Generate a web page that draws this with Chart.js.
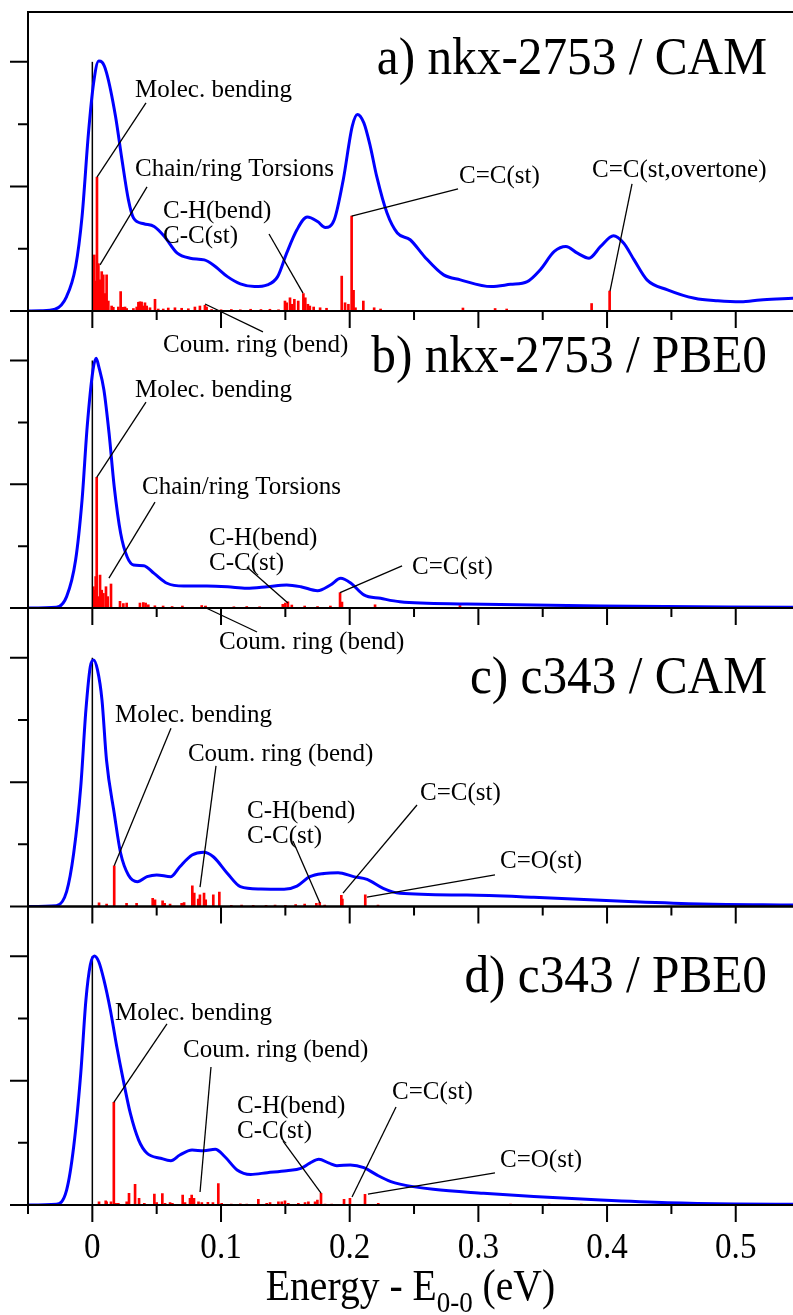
<!DOCTYPE html>
<html>
<head>
<meta charset="utf-8">
<script src="https://cdn.jsdelivr.net/npm/chart.js@4.4.0/dist/chart.umd.min.js"></script>
<style>
body { margin: 0; background: #fff; }
#wrap { position: relative; width: 793px; height: 1315px; }
#wrap canvas { position: absolute; left: 0; top: 0; }
</style>
</head>
<body>
<div id="wrap">
<canvas id="panelA" width="793" height="1315"></canvas>
<canvas id="panelB" width="793" height="1315"></canvas>
<canvas id="panelC" width="793" height="1315"></canvas>
<canvas id="panelD" width="793" height="1315"></canvas>
</div>
<script>
// axis ticks
var xMajor = [0, 0.1, 0.2, 0.3, 0.4, 0.5]
var xMinor = [-0.05, 0.05, 0.15, 0.25, 0.35, 0.45]
var xLabels = ["0", "0.1", "0.2", "0.3", "0.4", "0.5"]
var yMajor = [0, 0.5, 1]
var yMinor = [0.25, 0.75]

// 0-0 transition (black line)
var originX = [0, 0]
var originY = [0, 1]

// a) nkx-2753 / CAM  -- broadened spectrum
var specAx = [-0.05, -0.04, -0.029, -0.020, -0.013, -0.008, -0.003, 0.001, 0.005, 0.0075, 0.011, 0.018, 0.023, 0.028, 0.032, 0.040, 0.048, 0.056, 0.066, 0.076, 0.087, 0.094, 0.105, 0.115, 0.126, 0.136, 0.144, 0.151, 0.159, 0.167, 0.175, 0.181, 0.188, 0.195, 0.202, 0.206, 0.211, 0.216, 0.221, 0.229, 0.237, 0.247, 0.258, 0.273, 0.286, 0.310, 0.325, 0.338, 0.348, 0.359, 0.368, 0.377, 0.386, 0.395, 0.405, 0.413, 0.421, 0.431, 0.447, 0.468, 0.486, 0.504, 0.519, 0.532, 0.545]
var specAy = [0.0, 0.001, 0.007, 0.058, 0.178, 0.379, 0.715, 0.916, 1.003, 0.999, 0.957, 0.782, 0.608, 0.447, 0.373, 0.350, 0.339, 0.299, 0.232, 0.212, 0.205, 0.185, 0.138, 0.109, 0.098, 0.105, 0.138, 0.232, 0.326, 0.377, 0.359, 0.335, 0.366, 0.527, 0.742, 0.789, 0.755, 0.661, 0.540, 0.393, 0.313, 0.286, 0.219, 0.145, 0.125, 0.098, 0.107, 0.118, 0.165, 0.239, 0.259, 0.232, 0.212, 0.259, 0.302, 0.272, 0.205, 0.125, 0.085, 0.051, 0.041, 0.037, 0.044, 0.048, 0.051]
// stick spectrum
var stickAx = [0.0015, 0.0025, 0.0036, 0.0047, 0.0060, 0.0073, 0.0085, 0.0098, 0.0111, 0.0124, 0.0150, 0.0163, 0.0202, 0.0220, 0.0241, 0.0254, 0.0267, 0.0319, 0.0345, 0.0358, 0.0370, 0.0383, 0.0396, 0.0409, 0.0422, 0.0448, 0.0487, 0.0512, 0.0551, 0.0590, 0.0642, 0.0694, 0.0746, 0.0797, 0.0836, 0.0875, 0.0888, 0.0927, 0.100, 0.108, 0.115, 0.123, 0.131, 0.138, 0.1447, 0.1497, 0.151, 0.1536, 0.155, 0.157, 0.160, 0.164, 0.1655, 0.1675, 0.169, 0.172, 0.177, 0.182, 0.1938, 0.1964, 0.199, 0.2015, 0.203, 0.2045, 0.2106, 0.219, 0.224, 0.288, 0.313, 0.322, 0.388, 0.402]
var stickAy = [0.225, 0.12, 0.537, 0.19, 0.125, 0.158, 0.145, 0.07, 0.145, 0.04, 0.02, 0.015, 0.016, 0.078, 0.015, 0.016, 0.01, 0.01, 0.016, 0.035, 0.037, 0.036, 0.02, 0.033, 0.02, 0.013, 0.047, 0.008, 0.008, 0.012, 0.013, 0.011, 0.009, 0.016, 0.02, 0.023, 0.016, 0.006, 0.005, 0.006, 0.005, 0.007, 0.006, 0.007, 0.005, 0.04, 0.033, 0.053, 0.027, 0.047, 0.04, 0.07, 0.053, 0.027, 0.02, 0.016, 0.013, 0.011, 0.14, 0.033, 0.027, 0.381, 0.083, 0.013, 0.04, 0.013, 0.008, 0.012, 0.01, 0.008, 0.03, 0.08]

// b) nkx-2753 / PBE0
var specBx = [-0.05, -0.028, -0.020, -0.013, -0.008, -0.004, 0.0005, 0.003, 0.005, 0.009, 0.013, 0.017, 0.022, 0.027, 0.032, 0.040, 0.048, 0.058, 0.071, 0.089, 0.105, 0.120, 0.136, 0.151, 0.162, 0.175, 0.185, 0.193, 0.201, 0.211, 0.224, 0.239, 0.291, 0.395, 0.545]
var specBy = [0.0, 0.003, 0.046, 0.194, 0.436, 0.733, 0.962, 1.009, 0.975, 0.881, 0.706, 0.49, 0.302, 0.207, 0.174, 0.171, 0.14, 0.1, 0.089, 0.089, 0.086, 0.08, 0.086, 0.093, 0.086, 0.07, 0.093, 0.12, 0.1, 0.053, 0.039, 0.025, 0.016, 0.008, 0.003]
var stickBx = [0.0008, 0.0016, 0.0026, 0.0034, 0.0047, 0.0060, 0.0073, 0.0086, 0.0106, 0.0119, 0.0145, 0.0215, 0.0241, 0.0267, 0.0370, 0.0396, 0.0414, 0.0435, 0.0486, 0.055, 0.062, 0.070, 0.085, 0.088, 0.110, 0.120, 0.130, 0.148, 0.150, 0.152, 0.155, 0.165, 0.175, 0.185, 0.1925, 0.194, 0.2197, 0.2857]
var stickBy = [0.086, 0.072, 0.127, 0.528, 0.046, 0.133, 0.072, 0.059, 0.086, 0.046, 0.097, 0.027, 0.018, 0.02, 0.02, 0.022, 0.02, 0.013, 0.009, 0.008, 0.006, 0.008, 0.01, 0.008, 0.005, 0.006, 0.005, 0.015, 0.02, 0.025, 0.012, 0.008, 0.006, 0.008, 0.062, 0.024, 0.013, 0.01]

// c) c343 / CAM
var specCx = [-0.05, -0.028, -0.020, -0.0145, -0.009, -0.005, -0.0016, 0.001, 0.004, 0.0075, 0.011, 0.017, 0.022, 0.028, 0.035, 0.0425, 0.050, 0.061, 0.068, 0.0775, 0.0865, 0.094, 0.105, 0.115, 0.131, 0.149, 0.159, 0.169, 0.180, 0.191, 0.203, 0.2135, 0.226, 0.239, 0.291, 0.343, 0.421, 0.473, 0.545]
var specCy = [0.0, 0.003, 0.06, 0.214, 0.482, 0.79, 0.964, 0.991, 0.951, 0.83, 0.589, 0.375, 0.214, 0.127, 0.1, 0.12, 0.127, 0.12, 0.16, 0.207, 0.218, 0.2, 0.133, 0.08, 0.07, 0.069, 0.082, 0.12, 0.133, 0.136, 0.12, 0.109, 0.073, 0.053, 0.046, 0.037, 0.019, 0.01, 0.006]
var stickCx = [0.0052, 0.0111, 0.0170, 0.0266, 0.0344, 0.0469, 0.0487, 0.0546, 0.0562, 0.0604, 0.0694, 0.0713, 0.0777, 0.0792, 0.0823, 0.0836, 0.0868, 0.0881, 0.0940, 0.0987, 0.108, 0.116, 0.125, 0.135, 0.142, 0.150, 0.158, 0.165, 0.1741, 0.1767, 0.1806, 0.1935, 0.1943, 0.2121, 0.2220]
var stickCy = [0.015, 0.01, 0.164, 0.013, 0.013, 0.033, 0.027, 0.023, 0.013, 0.01, 0.013, 0.016, 0.083, 0.054, 0.03, 0.047, 0.054, 0.027, 0.047, 0.058, 0.005, 0.006, 0.005, 0.005, 0.006, 0.005, 0.008, 0.01, 0.013, 0.016, 0.006, 0.045, 0.03, 0.047, 0.006]

// d) c343 / PBE0
var specDx = [-0.05, -0.028, -0.020, -0.0145, -0.009, -0.005, -0.0016, 0.0016, 0.005, 0.009, 0.014, 0.019, 0.024, 0.0295, 0.036, 0.0425, 0.053, 0.061, 0.068, 0.0775, 0.0865, 0.0955, 0.103, 0.1125, 0.123, 0.136, 0.151, 0.162, 0.169, 0.176, 0.184, 0.190, 0.2005, 0.211, 0.221, 0.232, 0.239, 0.265, 0.304, 0.343, 0.395, 0.447, 0.499, 0.545]
var specDy = [0.0, 0.003, 0.06, 0.234, 0.529, 0.824, 0.965, 1.001, 0.978, 0.905, 0.784, 0.636, 0.503, 0.369, 0.261, 0.208, 0.188, 0.178, 0.201, 0.221, 0.218, 0.224, 0.194, 0.141, 0.123, 0.13, 0.138, 0.147, 0.168, 0.184, 0.168, 0.158, 0.161, 0.15, 0.121, 0.094, 0.084, 0.063, 0.047, 0.034, 0.02, 0.009, 0.004, 0.003]
var stickDx = [0.0052, 0.0104, 0.0111, 0.0145, 0.0167, 0.0181, 0.0202, 0.0267, 0.0285, 0.0332, 0.0363, 0.0404, 0.0482, 0.0500, 0.0544, 0.0565, 0.0604, 0.0622, 0.0702, 0.0720, 0.0759, 0.0772, 0.0790, 0.0825, 0.0851, 0.0898, 0.0937, 0.0979, 0.1005, 0.108, 0.115, 0.120, 0.129, 0.1355, 0.1381, 0.1446, 0.1472, 0.1497, 0.1523, 0.1601, 0.1653, 0.1679, 0.1731, 0.1749, 0.1777, 0.1808, 0.186, 0.1956, 0.2002, 0.2119, 0.2222, 0.325, 0.355, 0.38]
var stickDy = [0.013, 0.017, 0.013, 0.013, 0.413, 0.007, 0.007, 0.013, 0.047, 0.083, 0.027, 0.007, 0.044, 0.01, 0.046, 0.007, 0.01, 0.007, 0.04, 0.01, 0.027, 0.04, 0.027, 0.013, 0.01, 0.011, 0.01, 0.086, 0.007, 0.004, 0.005, 0.004, 0.023, 0.007, 0.01, 0.013, 0.013, 0.017, 0.007, 0.007, 0.01, 0.013, 0.013, 0.02, 0.047, 0.004, 0.004, 0.023, 0.027, 0.043, 0.007, 0.004, 0.004, 0.004]

// labels with leader lines, placed in data units (energy, intensity)
var notesA = [
    { text: ["Molec. bending"], at: [0.0332, 0.859], line: [0.0417, 0.835, 0.0036, 0.537] },
    { text: ["Chain/ring Torsions"], at: [0.0332, 0.542], line: [0.0425, 0.498, 0.006, 0.185] },
    { text: ["C-H(bend)", "C-C(st)"], at: [0.0549, 0.373], line: [0.1373, 0.309, 0.1637, 0.072] },
    { text: ["Coum. ring (bend)"], at: [0.0549, -0.165], line: [0.0876, 0.028, 0.1326, -0.084] },
    { text: ["C=C(st)"], at: [0.285, 0.514], line: [0.2842, 0.49, 0.2015, 0.381] },
    { text: ["C=C(st,overtone)"], at: [0.3883, 0.538], line: [0.4194, 0.51, 0.4023, 0.08] }
]
var notesB = [
    { text: ["Molec. bending"], at: [0.0332, 0.853], line: [0.0417, 0.832, 0.0034, 0.528] },
    { text: ["Chain/ring Torsions"], at: [0.0386, 0.461], line: [0.0487, 0.428, 0.0129, 0.121] },
    { text: ["C-H(bend)", "C-C(st)"], at: [0.0907, 0.255], line: [0.1202, 0.166, 0.152, 0.02] },
    { text: ["C=C(st)"], at: [0.2484, 0.137], line: [0.2407, 0.17, 0.1925, 0.062] },
    { text: ["Coum. ring (bend)"], at: [0.0984, -0.166], line: [0.0868, 0.004, 0.128, -0.097] }
]
var notesC = [
    { text: ["Molec. bending"], at: [0.0176, 0.741], line: [0.0611, 0.717, 0.017, 0.164] },
    { text: ["Coum. ring (bend)"], at: [0.0743, 0.585], line: [0.0961, 0.565, 0.0837, 0.078] },
    { text: ["C-H(bend)", "C-C(st)"], at: [0.1202, 0.356], line: [0.1559, 0.263, 0.1769, 0.014] },
    { text: ["C=C(st)"], at: [0.2546, 0.428], line: [0.2523, 0.408, 0.1948, 0.054] },
    { text: ["C=O(st)"], at: [0.3168, 0.155], line: [0.3129, 0.127, 0.2134, 0.038] }
]
var notesD = [
    { text: ["Molec. bending"], at: [0.0176, 0.744], line: [0.058, 0.728, 0.0167, 0.413] },
    { text: ["Coum. ring (bend)"], at: [0.0705, 0.595], line: [0.0922, 0.555, 0.0837, 0.052] },
    { text: ["C-H(bend)", "C-C(st)"], at: [0.1124, 0.37], line: [0.1482, 0.257, 0.1777, 0.048] },
    { text: ["C=C(st)"], at: [0.2329, 0.426], line: [0.236, 0.394, 0.2018, 0.032] },
    { text: ["C=O(st)"], at: [0.3168, 0.153], line: [0.3129, 0.129, 0.2142, 0.044] }
]

var SERIF = '"Liberation Serif", "Times New Roman", serif'

function toPoints(xs, ys) {
    var pts = []
    for (var i = 0; i < xs.length; i++) pts.push({ x: xs[i], y: ys[i] })
    return pts
}

// text a bit narrower than the font, like the original plot
function squeezedText(ctx, text, x, y, sx, align) {
    ctx.save()
    ctx.translate(x, y)
    ctx.scale(sx, 1)
    ctx.textAlign = align
    ctx.fillText(text, 0, 0)
    ctx.restore()
}

// frame, ticks, labels, titles
var framePlugin = {
    id: "frame",
    afterDatasetsDraw: function (chart, args, opts) {
        var ctx = chart.ctx
        var a = chart.chartArea
        var xs = chart.scales.x
        var ys = chart.scales.y
        ctx.save()
        ctx.strokeStyle = "#000"
        ctx.lineWidth = 2
        ctx.beginPath()
        ctx.moveTo(a.left, a.top); ctx.lineTo(a.right, a.top)
        ctx.moveTo(a.left, a.top - 1); ctx.lineTo(a.left, a.bottom)
        ctx.moveTo(a.left, a.bottom); ctx.lineTo(a.right, a.bottom)
        xMajor.forEach(function (v) {
            var p = xs.getPixelForValue(v)
            ctx.moveTo(p, a.bottom); ctx.lineTo(p, a.bottom + 17)
        })
        xMinor.forEach(function (v) {
            var p = xs.getPixelForValue(v)
            ctx.moveTo(p, a.bottom); ctx.lineTo(p, a.bottom + 9)
        })
        yMajor.forEach(function (v) {
            var p = ys.getPixelForValue(v)
            ctx.moveTo(a.left, p); ctx.lineTo(a.left - 18, p)
        })
        yMinor.forEach(function (v) {
            var p = ys.getPixelForValue(v)
            ctx.moveTo(a.left, p); ctx.lineTo(a.left - 10, p)
        })
        ctx.stroke()

        // leader lines and labels
        ctx.lineWidth = 1.3
        ctx.fillStyle = "#000"
        ctx.font = "25px " + SERIF
        ctx.textAlign = "left"
        ctx.textBaseline = "alphabetic"
        opts.notes.forEach(function (n) {
            ctx.beginPath()
            ctx.moveTo(xs.getPixelForValue(n.line[0]), ys.getPixelForValue(n.line[1]))
            ctx.lineTo(xs.getPixelForValue(n.line[2]), ys.getPixelForValue(n.line[3]))
            ctx.stroke()
            var tx = xs.getPixelForValue(n.at[0])
            var ty = ys.getPixelForValue(n.at[1])
            n.text.forEach(function (t, i) {
                ctx.fillText(t, tx, ty + i * 25)
            })
        })

        // panel title
        ctx.font = "53px " + SERIF
        squeezedText(ctx, opts.title, xs.getPixelForValue(opts.titleAt[0]), ys.getPixelForValue(opts.titleAt[1]), 0.93, "right")

        if (opts.bottomAxis) {
            ctx.font = "36px " + SERIF
            xMajor.forEach(function (v, i) {
                squeezedText(ctx, xLabels[i], xs.getPixelForValue(v), a.bottom + 53, 0.92, "center")
            })
            var sx = 0.9
            var big = "44px " + SERIF
            var small = "30px " + SERIF
            ctx.font = big
            var w1 = ctx.measureText("Energy - E").width * sx
            var w3 = ctx.measureText(" (eV)").width * sx
            ctx.font = small
            var w2 = ctx.measureText("0-0").width * sx
            var x0 = (a.left + a.right) / 2 - (w1 + w2 + w3) / 2
            var base = a.bottom + 95
            ctx.font = big
            squeezedText(ctx, "Energy - E", x0, base, sx, "left")
            ctx.font = small
            squeezedText(ctx, "0-0", x0 + w1, base + 12, sx, "left")
            ctx.font = big
            squeezedText(ctx, " (eV)", x0 + w1 + w2, base, sx, "left")
        }
        ctx.restore()
    }
}

function makePanel(id, specX, specY, stickX, stickY, top, bottom, notes, title, titleY, bottomAxis) {
    var ctx = document.getElementById(id).getContext("2d")
    var chart = new Chart(ctx, {
        type: "line",
        data: {
            datasets: [{
                type: "line",
                data: toPoints(specX, specY),
                borderColor: "#0000ff",
                borderWidth: 3,
                pointRadius: 0,
                cubicInterpolationMode: "monotone",
                order: 0
            }, {
                type: "line",
                data: toPoints(originX, originY),
                borderColor: "#000000",
                borderWidth: 1.5,
                pointRadius: 0,
                order: 1
            }, {
                type: "bar",
                data: toPoints(stickX, stickY),
                backgroundColor: "#ff0000",
                barThickness: 2,
                order: 2
            }]
        },
        options: {
            responsive: false,
            animation: false,
            devicePixelRatio: 1,
            layout: {
                padding: { left: 28, right: 0, top: top, bottom: 1315 - bottom }
            },
            scales: {
                x: { type: "linear", min: -0.05, max: 0.5445, offset: false, display: false },
                y: { type: "linear", min: 0, max: 1.2, display: false }
            },
            plugins: {
                legend: { display: false },
                tooltip: { enabled: false },
                frame: {
                    notes: notes,
                    title: title,
                    titleAt: [0.5243, titleY],
                    bottomAxis: bottomAxis
                }
            }
        },
        plugins: [framePlugin]
    })
    return chart
}

makePanel("panelA", specAx, specAy, stickAx, stickAy, 12, 311, notesA, "a) nkx-2753 / CAM", 0.95, false)
makePanel("panelB", specBx, specBy, stickBx, stickBy, 311, 608, notesB, "b) nkx-2753 / PBE0", 0.955, false)
makePanel("panelC", specCx, specCy, stickCx, stickCy, 608, 906.5, notesC, "c) c343 / CAM", 0.857, false)
makePanel("panelD", specDx, specDy, stickDx, stickDy, 906.5, 1205, notesD, "d) c343 / PBE0", 0.857, true)
</script>
</body>
</html>
